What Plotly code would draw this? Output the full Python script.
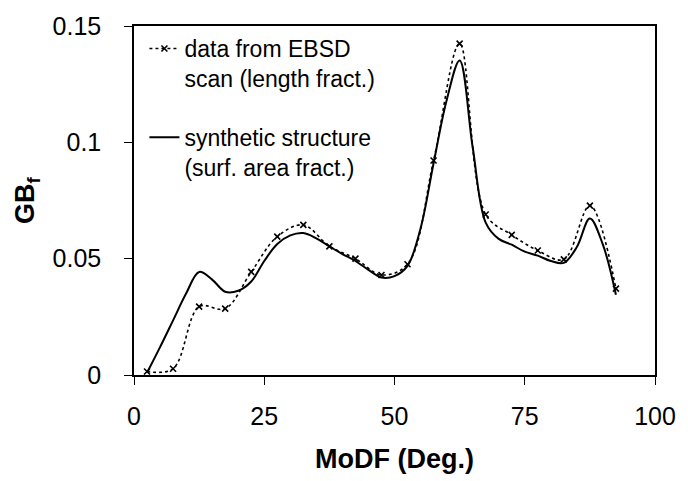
import plotly.graph_objects as go

# EBSD scan data (length fraction), markers every 5 degrees
ebsd_x = [2.5, 7.5, 12.5, 17.5, 22.5, 27.5, 32.5, 37.5, 42.5, 47.5,
          52.5, 57.5, 62.5, 67.5, 72.5, 77.5, 82.5, 87.5, 92.5]
ebsd_y = [0.0015, 0.0027, 0.0294, 0.0285, 0.0443, 0.0595, 0.0645, 0.0553, 0.0500, 0.0430,
          0.0476, 0.0922, 0.1424, 0.0690, 0.0602, 0.0535, 0.0497, 0.0728, 0.0371]

# synthetic structure (surface area fraction)
syn_x = [2.5, 5, 7.5, 10, 12.5, 15, 17.5, 20, 22.5, 25, 27.5, 30, 32.5, 35, 37.5,
         40, 42.5, 45, 47.5, 50, 52.5, 55, 57.5, 60, 62.5, 65, 67.5, 70, 72.5,
         75, 77.5, 80, 82.5, 85, 87.5, 90, 92.5]
syn_y = [0.0010, 0.0120, 0.0235, 0.0350, 0.0443, 0.0410, 0.0358, 0.0362, 0.0402, 0.0490,
         0.0563, 0.0600, 0.0610, 0.0587, 0.0553, 0.0520, 0.0490, 0.0452, 0.0419, 0.0425,
         0.0469, 0.0630, 0.0910, 0.1180, 0.1352, 0.0980, 0.0655, 0.0585, 0.0560, 0.0530,
         0.0513, 0.0490, 0.0482, 0.0550, 0.0673, 0.0560, 0.0345]

x_ticks = [0, 25, 50, 75, 100]
y_ticks = [0, 0.05, 0.1, 0.15]
y_tick_text = ["0", "0.05", "0.1", "0.15"]

FONT = "Liberation Sans, Arial, sans-serif"

fig = go.Figure()
fig.add_trace(go.Scatter(
    x=ebsd_x, y=ebsd_y, mode="lines+markers",
    name="data from EBSD<br>scan (length fract.)",
    line=dict(color="black", width=1.6, dash="dot", shape="spline", smoothing=1),
    marker=dict(symbol="x-thin", size=6, color="black", line=dict(color="black", width=1.6)),
    legendgroup="a",
))
fig.add_trace(go.Scatter(
    x=syn_x, y=syn_y, mode="lines",
    name="synthetic structure<br>(surf. area fract.)",
    line=dict(color="black", width=2, shape="spline", smoothing=1),
    legendgroup="b",
))

fig.update_layout(
    width=688, height=481,
    margin=dict(l=134, r=29, t=20, b=104.5),
    paper_bgcolor="white", plot_bgcolor="white",
    font=dict(family=FONT, color="black", size=25),
    showlegend=True,
    legend=dict(x=0.02, y=0.997, xanchor="left", yanchor="top",
                bgcolor="rgba(0,0,0,0)", font=dict(size=23, family=FONT, color="black"),
                valign="top", tracegroupgap=26, itemwidth=30),
    xaxis=dict(range=[0, 100], tickvals=x_ticks, ticks="outside", ticklen=8, tickwidth=1.3,
               tickcolor="black", showline=True, linecolor="black", linewidth=1.5, mirror=True,
               showgrid=False, zeroline=False, tickfont=dict(size=25),
               ticklabelstandoff=10,
               title=dict(text="<b>MoDF (Deg.)</b>", font=dict(size=27), standoff=20)),
    yaxis=dict(range=[0, 0.15], tickvals=y_ticks, ticktext=y_tick_text, ticks="outside",
               ticklen=8, tickwidth=1.3, tickcolor="black", showline=True, linecolor="black",
               linewidth=1.5, mirror=True, showgrid=False, zeroline=False,
               tickfont=dict(size=25), ticklabelstandoff=18,
               title=dict(text="<b>GB<sub>f</sub></b>", font=dict(size=27), standoff=10)),
)

fig.write_html("out.html")
